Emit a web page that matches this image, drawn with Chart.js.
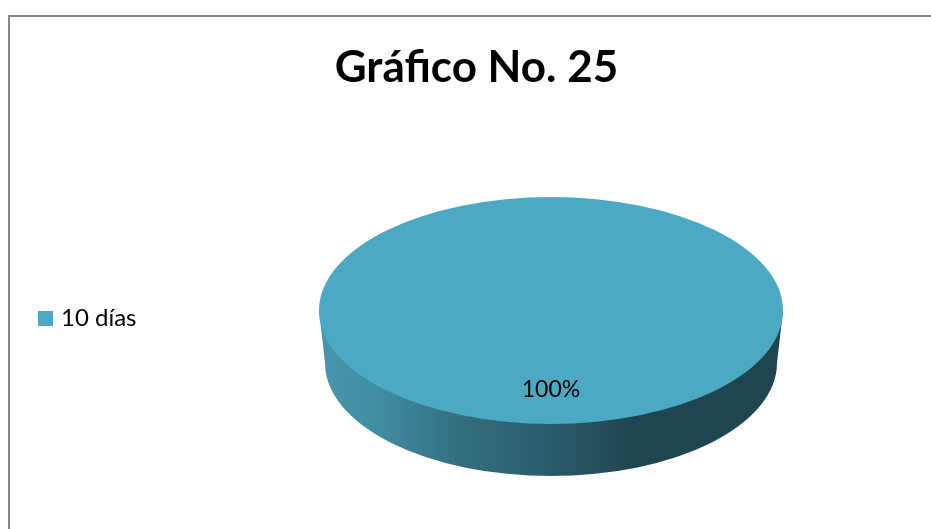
<!DOCTYPE html>
<html><head><meta charset="utf-8">
<style>html,body{margin:0;padding:0;background:#fff}#w{width:931px;height:529px}</style>
<script src="https://cdn.jsdelivr.net/npm/chart.js@4"></script></head>
<body><div id="w"><canvas id="c" width="931" height="529"></canvas></div>
<script>
const categories = ["10 días"];
const values = [100];
const chartTitle = "Gráfico No. 25";
const fontFamily = "Lato, 'Open Sans', sans-serif";
const TOP = '#4BA9C4';

const look = {
  frame:{x:9,y:16,color:'#868686',width:2},
  ellipse:{cx:551,cy:310.5,rx:232,ry:113.5},
  wall:{cy:363,rx:226,ry:113}
};

const frame3d = {
  id:'frame3d',
  beforeDraw(chart){
    const c=chart.ctx,f=look.frame;
    c.save();c.strokeStyle=f.color;c.lineWidth=f.width;
    c.beginPath();c.moveTo(f.x,chart.height);c.lineTo(f.x,f.y);c.lineTo(chart.width,f.y);c.stroke();c.restore();
  },
  beforeDatasetsDraw(chart){
    const c=chart.ctx,e=look.ellipse,w=look.wall,arc=chart.getDatasetMeta(0).data[0];
    c.save();
    const g=c.createLinearGradient(e.cx-e.rx,0,e.cx+e.rx,0);
    g.addColorStop(0,'#4796AD');g.addColorStop(0.12,'#418EA3');g.addColorStop(0.3,'#336F80');
    g.addColorStop(0.5,'#2A5C6B');g.addColorStop(0.68,'#1F4550');g.addColorStop(1,'#1F4550');
    c.fillStyle=g;c.beginPath();c.moveTo(e.cx-e.rx,e.cy);c.lineTo(e.cx-w.rx,w.cy);
    c.ellipse(e.cx,w.cy,w.rx,w.ry,0,Math.PI,0,true);c.lineTo(e.cx+e.rx,e.cy);c.closePath();c.fill();
    c.restore();
    c.save();
    c.translate(e.cx,e.cy);c.scale(e.rx/arc.outerRadius,e.ry/arc.outerRadius);c.translate(-arc.x,-arc.y);
  },
  afterDatasetsDraw(chart){
    const c=chart.ctx;c.restore();
    const total=values.reduce((a,b)=>a+b,0);
    c.save();c.fillStyle='#000';c.font="23px "+fontFamily;c.textAlign='center';c.textBaseline='middle';
    c.fillText(Math.round(values[0]/total*100)+'%',551,389.5);c.restore();
  }
};

new Chart(document.getElementById('c'),{
  type:'pie',
  data:{labels:categories,datasets:[{data:values,backgroundColor:[TOP],borderWidth:0}]},
  plugins:[frame3d],
  options:{
    responsive:false,animation:false,
    layout:{padding:{left:22,top:41,right:0,bottom:0}},
    plugins:{
      title:{display:true,text:chartTitle,color:'#000',font:{family:fontFamily,size:44,weight:'bold'},padding:{top:0,bottom:14}},
      legend:{position:'left',fullSize:false,labels:{color:'#000',font:{family:fontFamily,size:24},boxWidth:7,boxHeight:7,padding:20,
        generateLabels(){return categories.map((t,i)=>({text:t,fillStyle:TOP,strokeStyle:TOP,lineWidth:8,lineJoin:'miter',index:i}));}}},
      tooltip:{enabled:false}
    }
  }
});
</script></body></html>
